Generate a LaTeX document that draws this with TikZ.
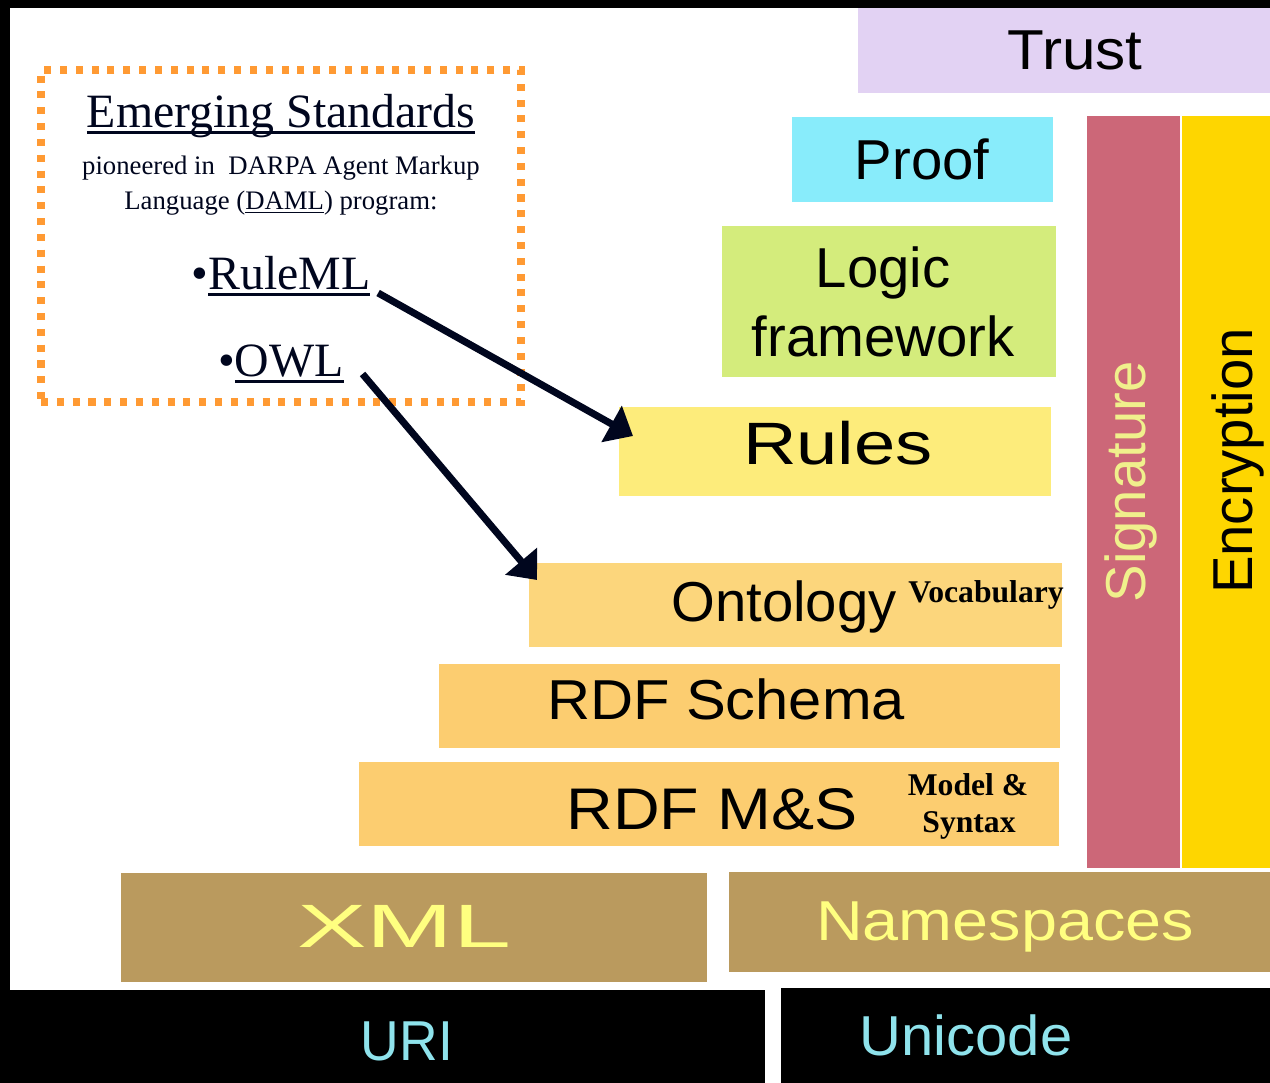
\documentclass[tikz,border=0pt]{standalone}
\usepackage{fontspec}
\usepackage{graphicx}
\setmainfont{Liberation Serif}
\setsansfont{Liberation Sans}
\usetikzlibrary{fit,arrows.meta}

\definecolor{trustc}{HTML}{E2D2F3}
\definecolor{proofc}{HTML}{88ECFB}
\definecolor{logicc}{HTML}{D4EC7C}
\definecolor{rulesc}{HTML}{FDEC7B}
\definecolor{ontoc}{HTML}{FCD67C}
\definecolor{rdfc}{HTML}{FCCD70}
\definecolor{xmlc}{HTML}{BA9A5E}
\definecolor{sigc}{HTML}{CC6778}
\definecolor{encc}{HTML}{FED600}
\definecolor{paleyellow}{HTML}{FFFF80}
\definecolor{sigtext}{HTML}{F0F08C}
\definecolor{uritext}{HTML}{8FE3EC}
\definecolor{framec}{HTML}{FF9A33}
\definecolor{inkc}{HTML}{00061E}

\newcommand{\underl}[1]{\setbox0\hbox{#1}\rlap{\rule[-0.13em]{\wd0}{0.06em}}\box0}
\newcommand{\stretchx}[2]{\scalebox{#1}[1]{#2}}

\tikzset{
  layer/.style={inner sep=0pt, outer sep=0pt},
  lbl/.style={font=\sffamily\fontsize{16}{19}\selectfont, anchor=base, inner sep=0pt},
  note/.style={font=\bfseries\fontsize{9}{11}\selectfont, anchor=base, inner sep=0pt},
  std/.style={text=inkc, anchor=base, inner sep=0pt},
  stdframe/.style={draw=framec, line width=2.1pt, dash pattern=on 2pt off 2.5pt, inner sep=0pt},
  pointer/.style={-{Triangle[length=7pt,width=11.5pt]}, line width=2pt, draw=inkc},
}

\begin{document}
\begin{tikzpicture}[x=0.01cm, y=-0.01cm]
    % frame
    \fill[black] (0,0) rectangle (1270,1083);
    \fill[white] (10,8) rectangle (1270,990);
    \fill[white] (765,990) rectangle (781,1083);

    % the layers
    \node[layer, fill=trustc, fit={(858,8) (1270,93)}] (trustbox) {};
    \node[layer, fill=proofc, fit={(792,117) (1053,202)}] (proofbox) {};
    \node[layer, fill=logicc, fit={(722,226) (1056,377)}] (logicbox) {};
    \node[layer, fill=rulesc, fit={(619,407) (1051,496)}] (rulesbox) {};
    \node[layer, fill=ontoc, fit={(529,563) (1062,647)}] (ontobox) {};
    \node[layer, fill=rdfc, fit={(439,664) (1060,748)}] (schemabox) {};
    \node[layer, fill=rdfc, fit={(359,762) (1059,846)}] (rdfmsbox) {};
    \node[layer, fill=xmlc, fit={(121,873) (707,982)}] (xmlbox) {};
    \node[layer, fill=xmlc, fit={(729,872) (1270,972)}] (nsbox) {};
    \node[layer, fill=sigc, fit={(1087,116) (1180,868)}] (sigbox) {};
    \node[layer, fill=encc, fit={(1182,116) (1270,868)}] (encbox) {};
    \node[layer, fill=black, fit={(0,990) (765,1083)}] (uribox) {};
    \node[layer, fill=black, fit={(781,988) (1270,1083)}] (unibox) {};

    \node[lbl] (trust) at (1075,70) {\stretchx{1.07}{Trust}};
    \node[lbl] (proof) at (922,180) {Proof};
    \node[lbl] (logic) at (883,288) {Logic};
    \node[lbl] (framework) at (883,357) {framework};
    \node[lbl, font=\sffamily\fontsize{17}{20}\selectfont] (rules) at (838,465) {\stretchx{1.24}{Rules}};
    \node[lbl] (onto) at (784,622) {Ontology};
    \node[note] (vocab) at (986,603) {Vocabulary};
    \node[lbl] (schema) at (726,720) {\stretchx{1.06}{RDF Schema}};
    \node[lbl, font=\sffamily\fontsize{16.7}{20}\selectfont] (rdfms) at (712,830) {\stretchx{1.1}{RDF M\&S}};
    \node[note] (model) at (968,795) {Model \&};
    \node[note] (syntax) at (969,833) {Syntax};
    \node[lbl, text=paleyellow, font=\sffamily\fontsize{17.4}{20}\selectfont] (xml) at (404,947) {\stretchx{1.7}{XML}};
    \node[lbl, text=paleyellow] (ns) at (1005,940) {\stretchx{1.15}{Namespaces}};
    \node[lbl, text=uritext] (uri) at (407,1060) {\stretchx{0.95}{URI}};
    \node[lbl, text=uritext] (unicode) at (966,1055) {\stretchx{1.03}{Unicode}};
    \node[lbl, text=sigtext, rotate=90] (sig) at (1145,482) {Signature};
    \node[lbl, rotate=90] (enc) at (1252,461) {Encryption};

    % emerging standards
    \node[stdframe, fit={(41,70) (521,402)}] (stdbox) {};
    \node[std, font=\fontsize{13.6}{16}\selectfont] (title) at (281,128) {\underl{Emerging Standards}};
    \node[std, font=\fontsize{7.6}{10}\selectfont] (pioneer) at (281,175) {pioneered in\ \ DARPA Agent Markup};
    \node[std, font=\fontsize{7.6}{10}\selectfont] (daml) at (281,210) {Language (\underl{DAML}) program:};
    \node[std, font=\fontsize{13.6}{16}\selectfont] (ruleml) at (281,290) {\textbullet\underl{RuleML}};
    \node[std, font=\fontsize{13.6}{16}\selectfont] (owl) at (281,377) {\textbullet\underl{OWL}};

    \coordinate (ruletip) at ([shift={(14,29)}]rulesbox.north west);
    \coordinate (owltip) at ([shift={(8,17)}]ontobox.north west);
    \draw[pointer] ([shift={(7,3)}]ruleml.base east) -- (ruletip);
    \draw[pointer] ([shift={(18,-3)}]owl.base east) -- (owltip);
\end{tikzpicture}
\end{document}
